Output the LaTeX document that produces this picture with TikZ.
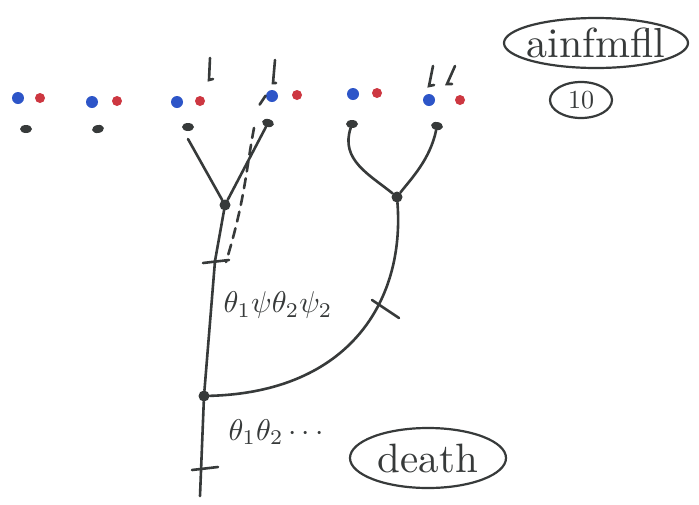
\documentclass[tikz,border=0pt]{standalone}
\usepackage{fontspec}
\usetikzlibrary{shapes.geometric}
\definecolor{pen}{RGB}{55,58,58}
\definecolor{bluedot}{RGB}{45,85,200}
\definecolor{reddot}{RGB}{205,55,65}
\tikzset{
  ink/.style={draw=pen, line width=2.6pt, line cap=round},
  bdot/.style={circle, fill=bluedot, inner sep=0pt, minimum size=12pt},
  rdot/.style={circle, fill=reddot, inner sep=0pt, minimum size=10pt},
  kdot/.style={ellipse, fill=pen, inner sep=0pt, minimum width=12pt, minimum height=8pt},
  jdot/.style={circle, fill=pen, inner sep=0pt, minimum size=11pt},
  oval/.style={draw=pen, line width=2.2pt},
  hand/.style={text=pen, inner sep=0pt},
}
\begin{document}
\begin{tikzpicture}[x=1pt,y=-1pt]
\useasboundingbox[fill=white] (0,0) rectangle (699,504);

% pairs of blue and red dots
\node[bdot] (b1) at (18,98) {};  \node[rdot] (r1) at (40,98) {};
\node[bdot] (b2) at (92,102) {}; \node[rdot] (r2) at (117,101) {};
\node[bdot] (b3) at (177,102) {};\node[rdot] (r3) at (200,101) {};
\node[bdot] (b4) at (272,96) {}; \node[rdot] (r4) at (297,95) {};
\node[bdot] (b5) at (353,94) {}; \node[rdot] (r5) at (377,93) {};
\node[bdot] (b6) at (429,100) {};\node[rdot] (r6) at (460,100) {};

% black dots below each pair
\node[kdot] (k1) at (26,129) {};
\node[kdot, rotate=10] (k2) at (98,129) {};
\node[kdot] (k3) at (188,127) {};
\node[kdot, rotate=-15] (k4) at (268,123) {};
\node[kdot] (k5) at (352,124) {};
\node[kdot, rotate=-10] (k6) at (437,126) {};

% small marks pointing down at the dots
\coordinate (m3) at (210,58);  \coordinate (m3e) at (209,80);
\coordinate (m4) at (275,60);  \coordinate (m4e) at (273,83);
\coordinate (m6a) at (433,66); \coordinate (m6ae) at (429,86);
\coordinate (m6b) at (455,66); \coordinate (m6be) at (447,84);
\draw[ink] (m3) -- (m3e) -- ++(4,-1);
\draw[ink] (m4) -- (m4e) -- ++(3,0);
\draw[ink] (m6a) -- (m6ae) -- ++(5,-1);
\draw[ink] (m6b) -- (m6be) -- ++(5,0);
\draw[ink] (b4.north west) ++(-2,4) -- ++(-6,9);

% left branching
\node[jdot] (j1) at (225,205) {};
\draw[ink] (188,139) -- (j1);
\draw[ink] (k4) -- (j1);

% right branching
\node[jdot] (j2) at (397,197) {};
\draw[ink] (k5) .. controls (340,160) and (370,175) .. (j2);
\draw[ink] (k6) .. controls (430,160) and (410,180) .. (j2);

% trunk with lower junction
\node[jdot] (j3) at (204,396) {};
\coordinate (t1) at (215,261);
\coordinate (bot) at (200,496);
\draw[ink] (j1) -- (t1) -- (j3) -- (bot);
\draw[ink] (203,263) -- (229,260);
\draw[ink] (192,470) -- (218,467);

% dashed path from the fourth pair
\draw[ink, dashed, dash pattern=on 10pt off 7pt] (254,128) .. controls (246,170) and (245,200) .. (226,262);

% curve joining the right branching into the trunk
\draw[ink] (j2) .. controls (405,300) and (350,392) .. (j3);
\draw[ink] (372,300) -- (399,318);

% labels
\node[hand, scale=3] (lab1) at (278,305) {$\theta_1\psi\theta_2\psi_2$};
\node[hand, scale=3, anchor=west] (lab2) at (228,432) {$\theta_1\theta_2\,{\cdot}\,{\cdot}\,{\cdot}$};
\node[hand, scale=4.2] (ainf) at (596,43) {ainfmf{}ll};
\draw[oval] (ainf.center) ellipse [x radius=92, y radius=25];
\node[hand, scale=2.6] (ten) at (581,100) {10};
\draw[oval] (ten.center) ellipse [x radius=31, y radius=18];
\node[hand, scale=4.1] (death) at (428,458) {death};
\draw[oval] (death.center) ellipse [x radius=78, y radius=30];
\end{tikzpicture}
\end{document}
